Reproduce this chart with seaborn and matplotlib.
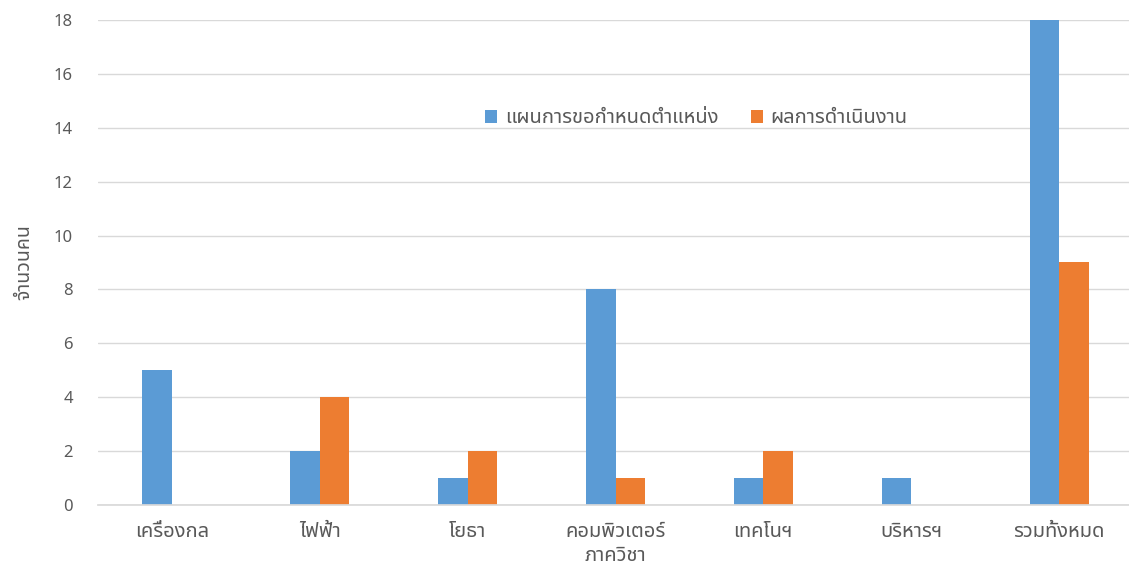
import matplotlib
matplotlib.use("Agg")
import matplotlib.pyplot as plt
from matplotlib import font_manager
from matplotlib.ft2font import FT2Font
import seaborn as sns
import pandas as pd

categories = ["เครื่องกล", "ไฟฟ้า", "โยธา", "คอมพิวเตอร์", "เทคโนฯ", "บริหารฯ", "รวมทั้งหมด"]
plan = [5, 2, 1, 8, 1, 1, 18]
result = [0, 4, 2, 1, 2, 0, 9]
series_names = ["แผนการขอกำหนดตำแหน่ง", "ผลการดำเนินงาน"]
y_ticks = [0, 2, 4, 6, 8, 10, 12, 14, 16, 18]

# find a font with Thai glyphs
thai_font = None
cands = []
for f in font_manager.fontManager.ttflist:
    try:
        cm = FT2Font(f.fname).get_charmap()
        if 0x0E01 in cm and 0x0E33 in cm:
            cands.append(f.name)
    except Exception:
        pass
pref = ["Noto Sans Thai", "Noto Sans Thai UI", "Noto Sans Thai Looped", "Loma", "Garuda", "Tahoma", "Leelawadee UI", "Sarabun"]
for p in pref:
    if p in cands:
        thai_font = p
        break
if thai_font is None and cands:
    thai_font = cands[0]

sns.set_theme(style="white")
fams = ([thai_font] if thai_font else []) + ["DejaVu Sans"]
plt.rcParams["font.family"] = fams

df = pd.DataFrame({
    "cat": categories * 2,
    "val": plan + result,
    "series": [series_names[0]] * len(categories) + [series_names[1]] * len(categories),
})

fig = plt.figure(figsize=(11.29, 5.69), dpi=100)
ax = fig.add_axes([98 / 1129, 0.1125, 1035 / 1129, 0.8525])
sns.barplot(data=df, x="cat", y="val", hue="series",
            palette=["#5B9BD5", "#ED7D31"], width=0.4, ax=ax,
            saturation=1, legend=True, linewidth=0, edgecolor="none")

ax.set_ylim(0, 18)
ax.set_xlim(-0.5, len(categories) - 0.5)
ax.set_yticks(y_ticks)
ax.yaxis.grid(True, color="#D9D9D9", linewidth=1)
ax.set_axisbelow(True)
for s in ["top", "right", "left"]:
    ax.spines[s].set_visible(False)
ax.spines["bottom"].set_color("#D9D9D9")
ax.tick_params(axis="both", length=0, colors="#595959", labelsize=12)
ax.tick_params(axis="y", pad=18)
ax.tick_params(axis="x", pad=12, labelsize=14.5)
ax.set_xlabel("ภาควิชา", color="#595959", fontsize=14.5, labelpad=3)
ax.set_ylabel("จำนวนคน", color="#595959", fontsize=14, labelpad=14)

leg = ax.legend(loc="upper center", bbox_to_anchor=(0.578, 0.855), ncol=2, frameon=False,
                fontsize=14.5, handlelength=0.6, handleheight=0.6, columnspacing=1.6,
                handletextpad=0.4, labelcolor="#595959")

fig.savefig("out.png", dpi=100)
